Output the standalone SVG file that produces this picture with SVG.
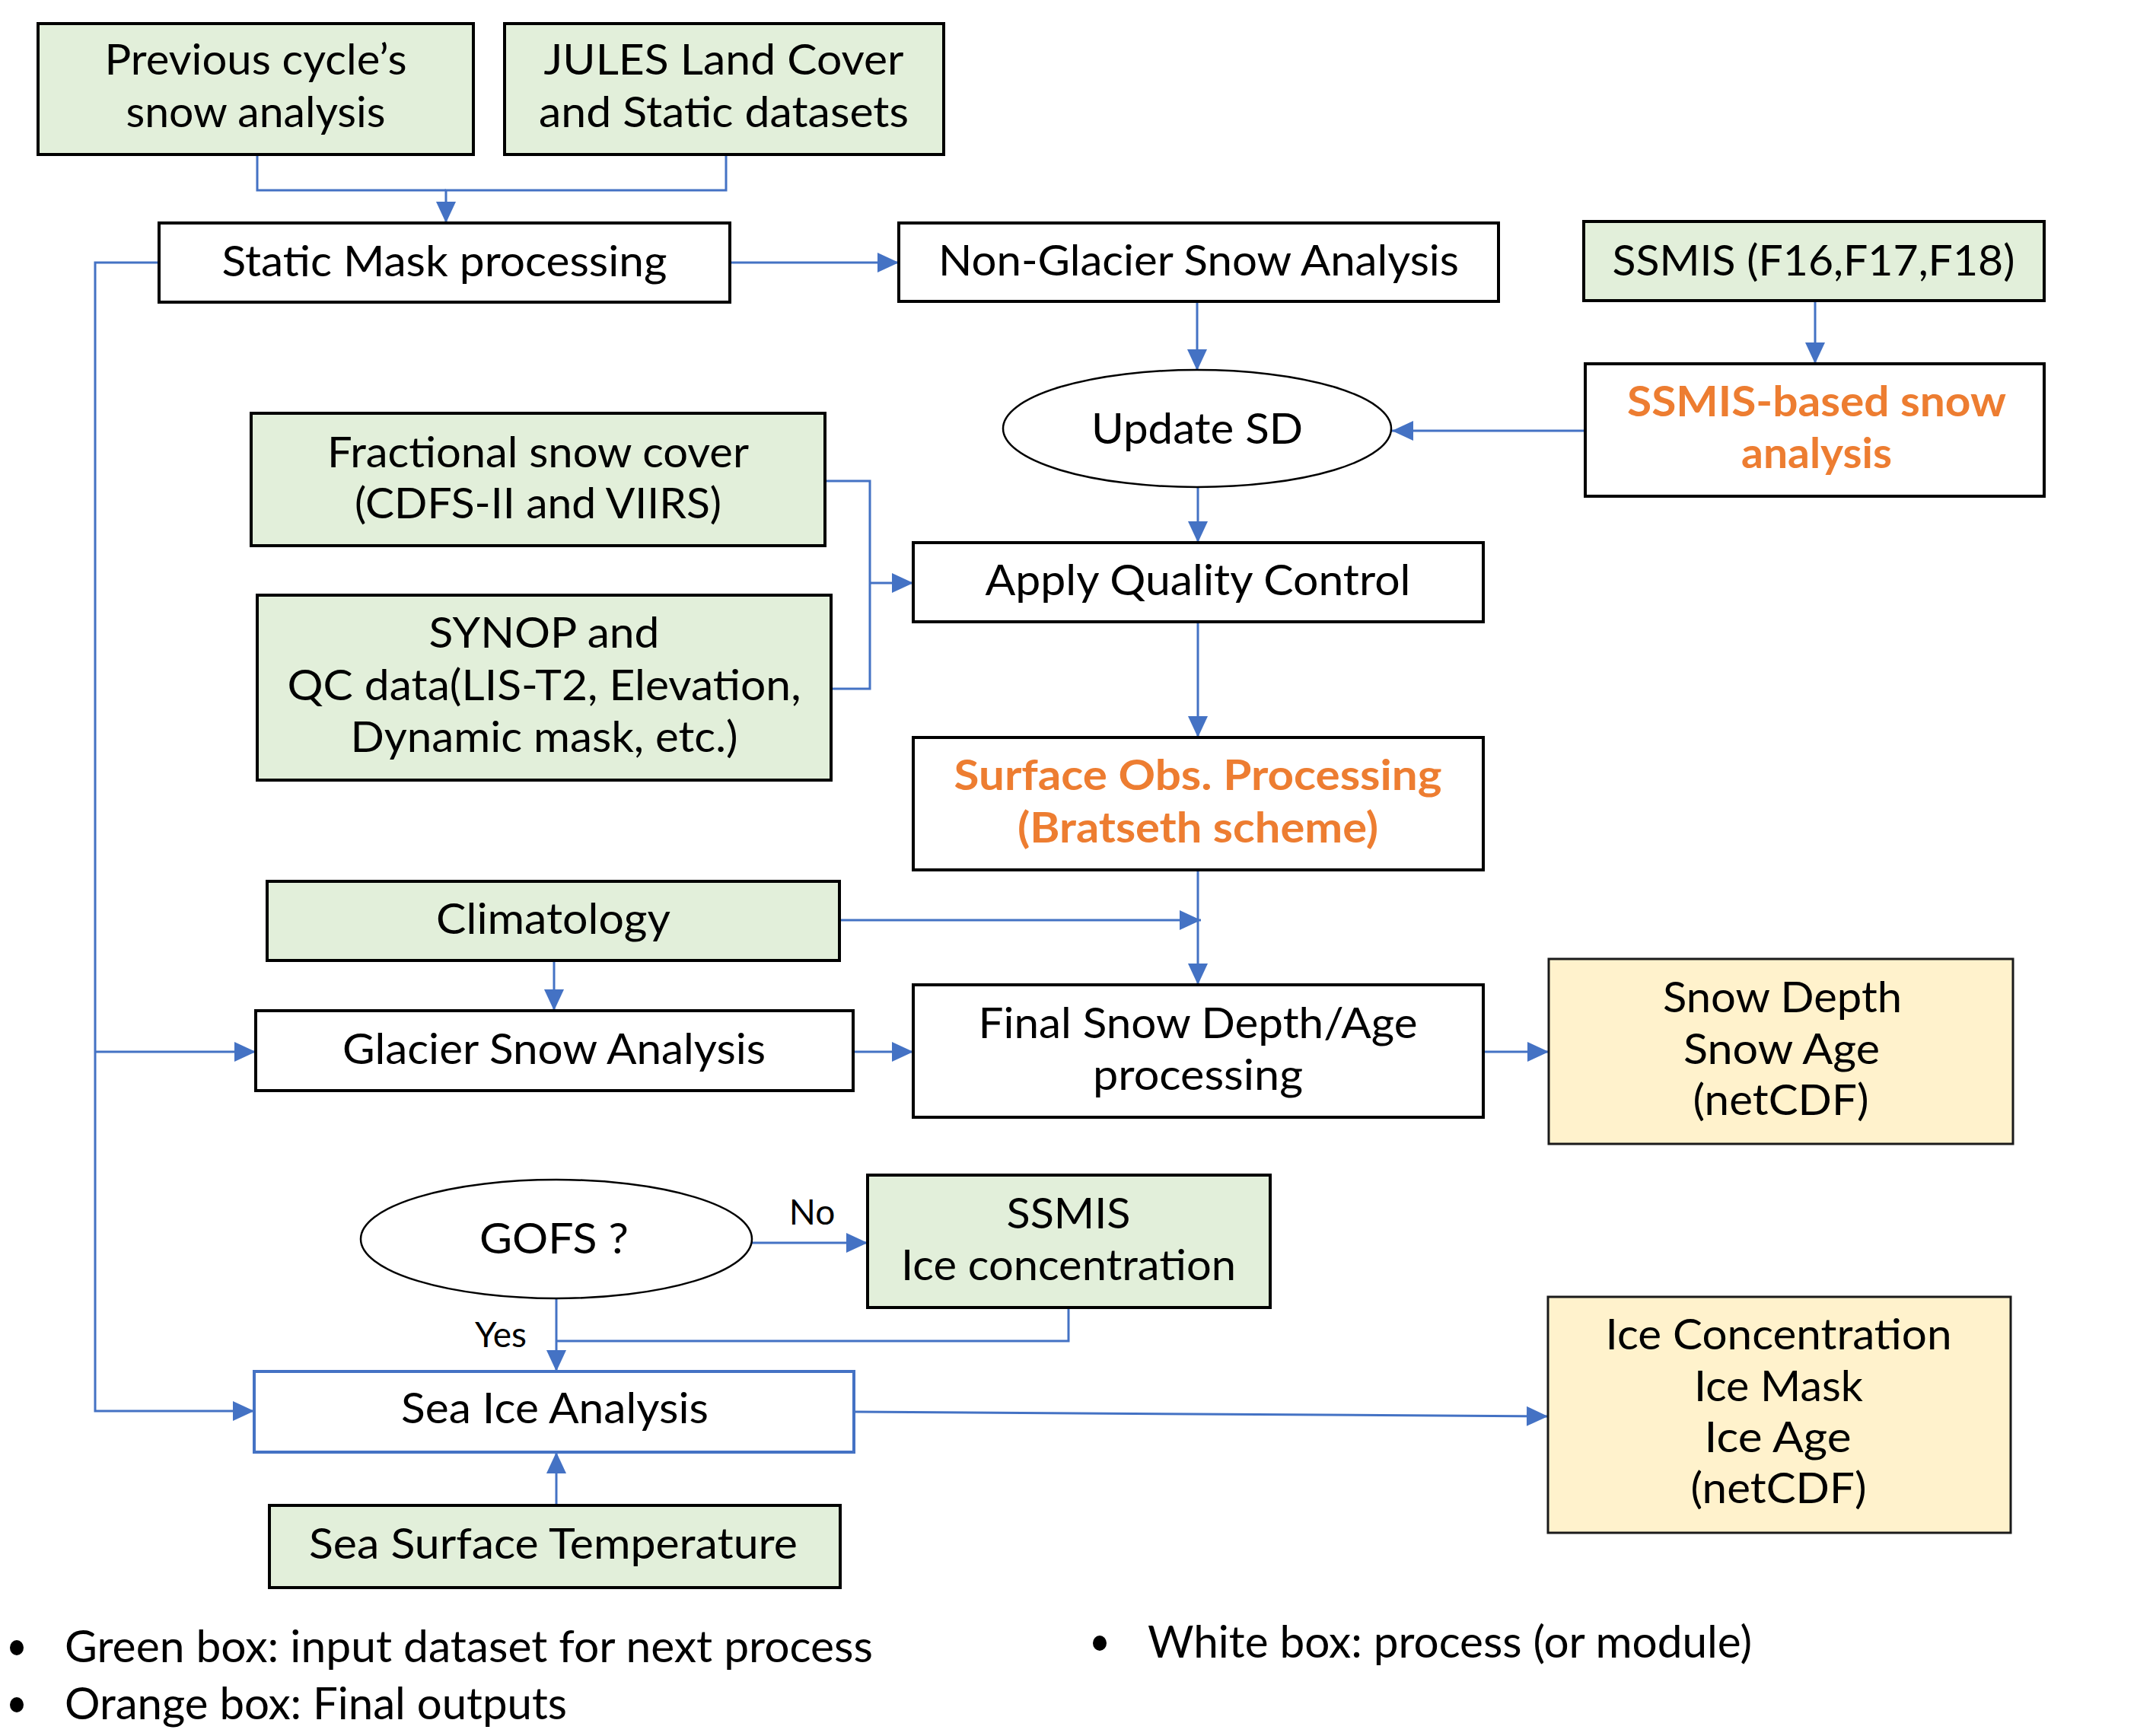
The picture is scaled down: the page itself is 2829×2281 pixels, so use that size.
<svg xmlns="http://www.w3.org/2000/svg" width="2829" height="2281" viewBox="0 0 2829 2281">
<style>
.box{stroke:#000;stroke-width:4}
.green{fill:#E2EFDA}
.white{fill:#FFFFFF}
.out{fill:#FFF2CC;stroke:#1a1a1a;stroke-width:3}
.ell{fill:#FFFFFF;stroke:#000;stroke-width:2.5}
.t{font-family:Lato,"Open Sans","Liberation Sans",sans-serif;font-size:56px;fill:#000;text-anchor:middle}
.o{font-family:Lato,"Open Sans","Liberation Sans",sans-serif;font-size:56px;font-weight:bold;fill:#ED7D31;text-anchor:middle}
.lbl{font-family:Lato,"Open Sans","Liberation Sans",sans-serif;font-size:46px;fill:#000;text-anchor:middle}
.leg{font-family:Lato,"Open Sans","Liberation Sans",sans-serif;font-size:58px;fill:#000}
.c{fill:none;stroke:#4472C4;stroke-width:3}
</style>
<defs>
<marker id="ah" markerUnits="userSpaceOnUse" markerWidth="30" markerHeight="28" refX="28" refY="13" orient="auto">
<path d="M0,0 L28,13 L0,26 z" fill="#4472C4"/>
</marker>
</defs>
<rect width="2829" height="2281" fill="#FFFFFF"/>
<g id="connectors">
<path class="c" d="M338,203 V250 H586"/>
<path class="c" d="M954,203 V250 H586 V293" marker-end="url(#ah)"/>
<path class="c" d="M959,345 H1181" marker-end="url(#ah)"/>
<path class="c" d="M209,345 H125 V1854 H334" marker-end="url(#ah)"/>
<path class="c" d="M125,1382 H336" marker-end="url(#ah)"/>
<path class="c" d="M1573,396 V487" marker-end="url(#ah)"/>
<path class="c" d="M2385,395 V478" marker-end="url(#ah)"/>
<path class="c" d="M2083,566 H1829" marker-end="url(#ah)"/>
<path class="c" d="M1574,640 V713" marker-end="url(#ah)"/>
<path class="c" d="M1084,632 H1143 V905 H1092"/>
<path class="c" d="M1143,766 H1200" marker-end="url(#ah)"/>
<path class="c" d="M1574,817 V969" marker-end="url(#ah)"/>
<path class="c" d="M1574,1143 V1294" marker-end="url(#ah)"/>
<path class="c" d="M1103,1209 H1578" marker-end="url(#ah)"/>
<path class="c" d="M728,1262 V1328" marker-end="url(#ah)"/>
<path class="c" d="M1121,1382 H1200" marker-end="url(#ah)"/>
<path class="c" d="M1949,1382 H2035" marker-end="url(#ah)"/>
<path class="c" d="M987,1633 H1140" marker-end="url(#ah)"/>
<path class="c" d="M731,1706 V1802" marker-end="url(#ah)"/>
<path class="c" d="M1404,1718 V1762 H731"/>
<path class="c" d="M731,1978 V1908" marker-end="url(#ah)"/>
<path class="c" d="M1122,1855 L2034,1861" marker-end="url(#ah)"/>
<text class="lbl" x="1067" y="1609">No</text>
<text class="lbl" x="658" y="1770">Yes</text>
</g>
<g id="prev-snow">
<rect class="box green" x="50" y="31" width="572" height="172"/>
<text class="t" x="336" y="98" textLength="397" lengthAdjust="spacingAndGlyphs">Previous cycle’s</text>
<text class="t" x="336" y="167" textLength="341" lengthAdjust="spacingAndGlyphs">snow analysis</text>
</g>
<g id="jules">
<rect class="box green" x="663" y="31" width="577" height="172"/>
<text class="t" x="951" y="98" textLength="473" lengthAdjust="spacingAndGlyphs">JULES Land Cover</text>
<text class="t" x="951" y="167" textLength="486" lengthAdjust="spacingAndGlyphs">and Static datasets</text>
</g>
<g id="static-mask">
<rect class="box white" x="209" y="293" width="750" height="104"/>
<text class="t" x="584" y="363" textLength="585" lengthAdjust="spacingAndGlyphs">Static Mask processing</text>
</g>
<g id="non-glacier">
<rect class="box white" x="1181" y="293" width="788" height="103"/>
<text class="t" x="1575" y="362" textLength="684" lengthAdjust="spacingAndGlyphs">Non-Glacier Snow Analysis</text>
</g>
<g id="ssmis">
<rect class="box green" x="2081" y="291" width="605" height="104"/>
<text class="t" x="2383" y="362" textLength="529" lengthAdjust="spacingAndGlyphs">SSMIS (F16,F17,F18)</text>
</g>
<g id="ssmis-based">
<rect class="box white" x="2083" y="478" width="603" height="174"/>
<text class="o" x="2387" y="547" textLength="498" lengthAdjust="spacingAndGlyphs">SSMIS-based snow</text>
<text class="o" x="2387" y="615" textLength="198" lengthAdjust="spacingAndGlyphs">analysis</text>
</g>
<g id="update-sd">
<ellipse class="ell" cx="1573" cy="563" rx="255" ry="77"/>
<text class="t" x="1573" y="583" textLength="278" lengthAdjust="spacingAndGlyphs">Update SD</text>
</g>
<g id="fractional">
<rect class="box green" x="330" y="543" width="754" height="174"/>
<text class="t" x="707" y="614" textLength="554" lengthAdjust="spacingAndGlyphs">Fractional snow cover</text>
<text class="t" x="707" y="681" textLength="482" lengthAdjust="spacingAndGlyphs">(CDFS-II and VIIRS)</text>
</g>
<g id="apply-qc">
<rect class="box white" x="1200" y="713" width="749" height="104"/>
<text class="t" x="1574" y="782" textLength="559" lengthAdjust="spacingAndGlyphs">Apply Quality Control</text>
</g>
<g id="synop">
<rect class="box green" x="338" y="782" width="754" height="243"/>
<text class="t" x="715" y="851" textLength="303" lengthAdjust="spacingAndGlyphs">SYNOP and</text>
<text class="t" x="715" y="920" textLength="675" lengthAdjust="spacingAndGlyphs">QC data(LIS-T2, Elevation,</text>
<text class="t" x="715" y="988" textLength="509" lengthAdjust="spacingAndGlyphs">Dynamic mask, etc.)</text>
</g>
<g id="surface-obs">
<rect class="box white" x="1200" y="969" width="749" height="174"/>
<text class="o" x="1574" y="1038" textLength="641" lengthAdjust="spacingAndGlyphs">Surface Obs. Processing</text>
<text class="o" x="1574" y="1107" textLength="474" lengthAdjust="spacingAndGlyphs">(Bratseth scheme)</text>
</g>
<g id="climatology">
<rect class="box green" x="351" y="1158" width="752" height="104"/>
<text class="t" x="727" y="1227" textLength="308" lengthAdjust="spacingAndGlyphs">Climatology</text>
</g>
<g id="glacier">
<rect class="box white" x="336" y="1328" width="785" height="105"/>
<text class="t" x="728" y="1398" textLength="556" lengthAdjust="spacingAndGlyphs">Glacier Snow Analysis</text>
</g>
<g id="final-snow">
<rect class="box white" x="1200" y="1294" width="749" height="174"/>
<text class="t" x="1574" y="1364" textLength="577" lengthAdjust="spacingAndGlyphs">Final Snow Depth/Age</text>
<text class="t" x="1574" y="1432" textLength="276" lengthAdjust="spacingAndGlyphs">processing</text>
</g>
<g id="snow-output">
<rect class="out" x="2035" y="1260" width="610" height="243"/>
<text class="t" x="2342" y="1330" textLength="314" lengthAdjust="spacingAndGlyphs">Snow Depth</text>
<text class="t" x="2341" y="1398" textLength="258" lengthAdjust="spacingAndGlyphs">Snow Age</text>
<text class="t" x="2340" y="1465" textLength="231" lengthAdjust="spacingAndGlyphs">(netCDF)</text>
</g>
<g id="gofs">
<ellipse class="ell" cx="731" cy="1628" rx="257" ry="78"/>
<text class="t" x="728" y="1647" textLength="196" lengthAdjust="spacingAndGlyphs">GOFS ?</text>
</g>
<g id="ssmis-ice">
<rect class="box green" x="1140" y="1544" width="529" height="174"/>
<text class="t" x="1404" y="1614" textLength="163" lengthAdjust="spacingAndGlyphs">SSMIS</text>
<text class="t" x="1404" y="1682" textLength="440" lengthAdjust="spacingAndGlyphs">Ice concentration</text>
</g>
<g id="sea-ice">
<rect x="334" y="1802" width="788" height="106" fill="#FFFFFF" stroke="#4472C4" stroke-width="4"/>
<text class="t" x="729" y="1870" textLength="404" lengthAdjust="spacingAndGlyphs">Sea Ice Analysis</text>
</g>
<g id="ice-output">
<rect class="out" x="2034" y="1704" width="608" height="310"/>
<text class="t" x="2337" y="1773" textLength="455" lengthAdjust="spacingAndGlyphs">Ice Concentration</text>
<text class="t" x="2337" y="1841" textLength="222" lengthAdjust="spacingAndGlyphs">Ice Mask</text>
<text class="t" x="2336" y="1908" textLength="193" lengthAdjust="spacingAndGlyphs">Ice Age</text>
<text class="t" x="2337" y="1975" textLength="231" lengthAdjust="spacingAndGlyphs">(netCDF)</text>
</g>
<g id="sst">
<rect class="box green" x="354" y="1978" width="750" height="108"/>
<text class="t" x="727" y="2048" textLength="642" lengthAdjust="spacingAndGlyphs">Sea Surface Temperature</text>
</g>
<g id="legend">
<ellipse cx="22" cy="2165" rx="9" ry="10" fill="#000"/>
<text class="leg" x="85" y="2184" textLength="1062" lengthAdjust="spacingAndGlyphs">Green box: input dataset for next process</text>
<ellipse cx="22" cy="2240" rx="9" ry="10" fill="#000"/>
<text class="leg" x="85" y="2259" textLength="660" lengthAdjust="spacingAndGlyphs">Orange box: Final outputs</text>
<ellipse cx="1445" cy="2159" rx="9" ry="10" fill="#000"/>
<text class="leg" x="1508" y="2178" textLength="794" lengthAdjust="spacingAndGlyphs">White box: process (or module)</text>
</g>
</svg>
